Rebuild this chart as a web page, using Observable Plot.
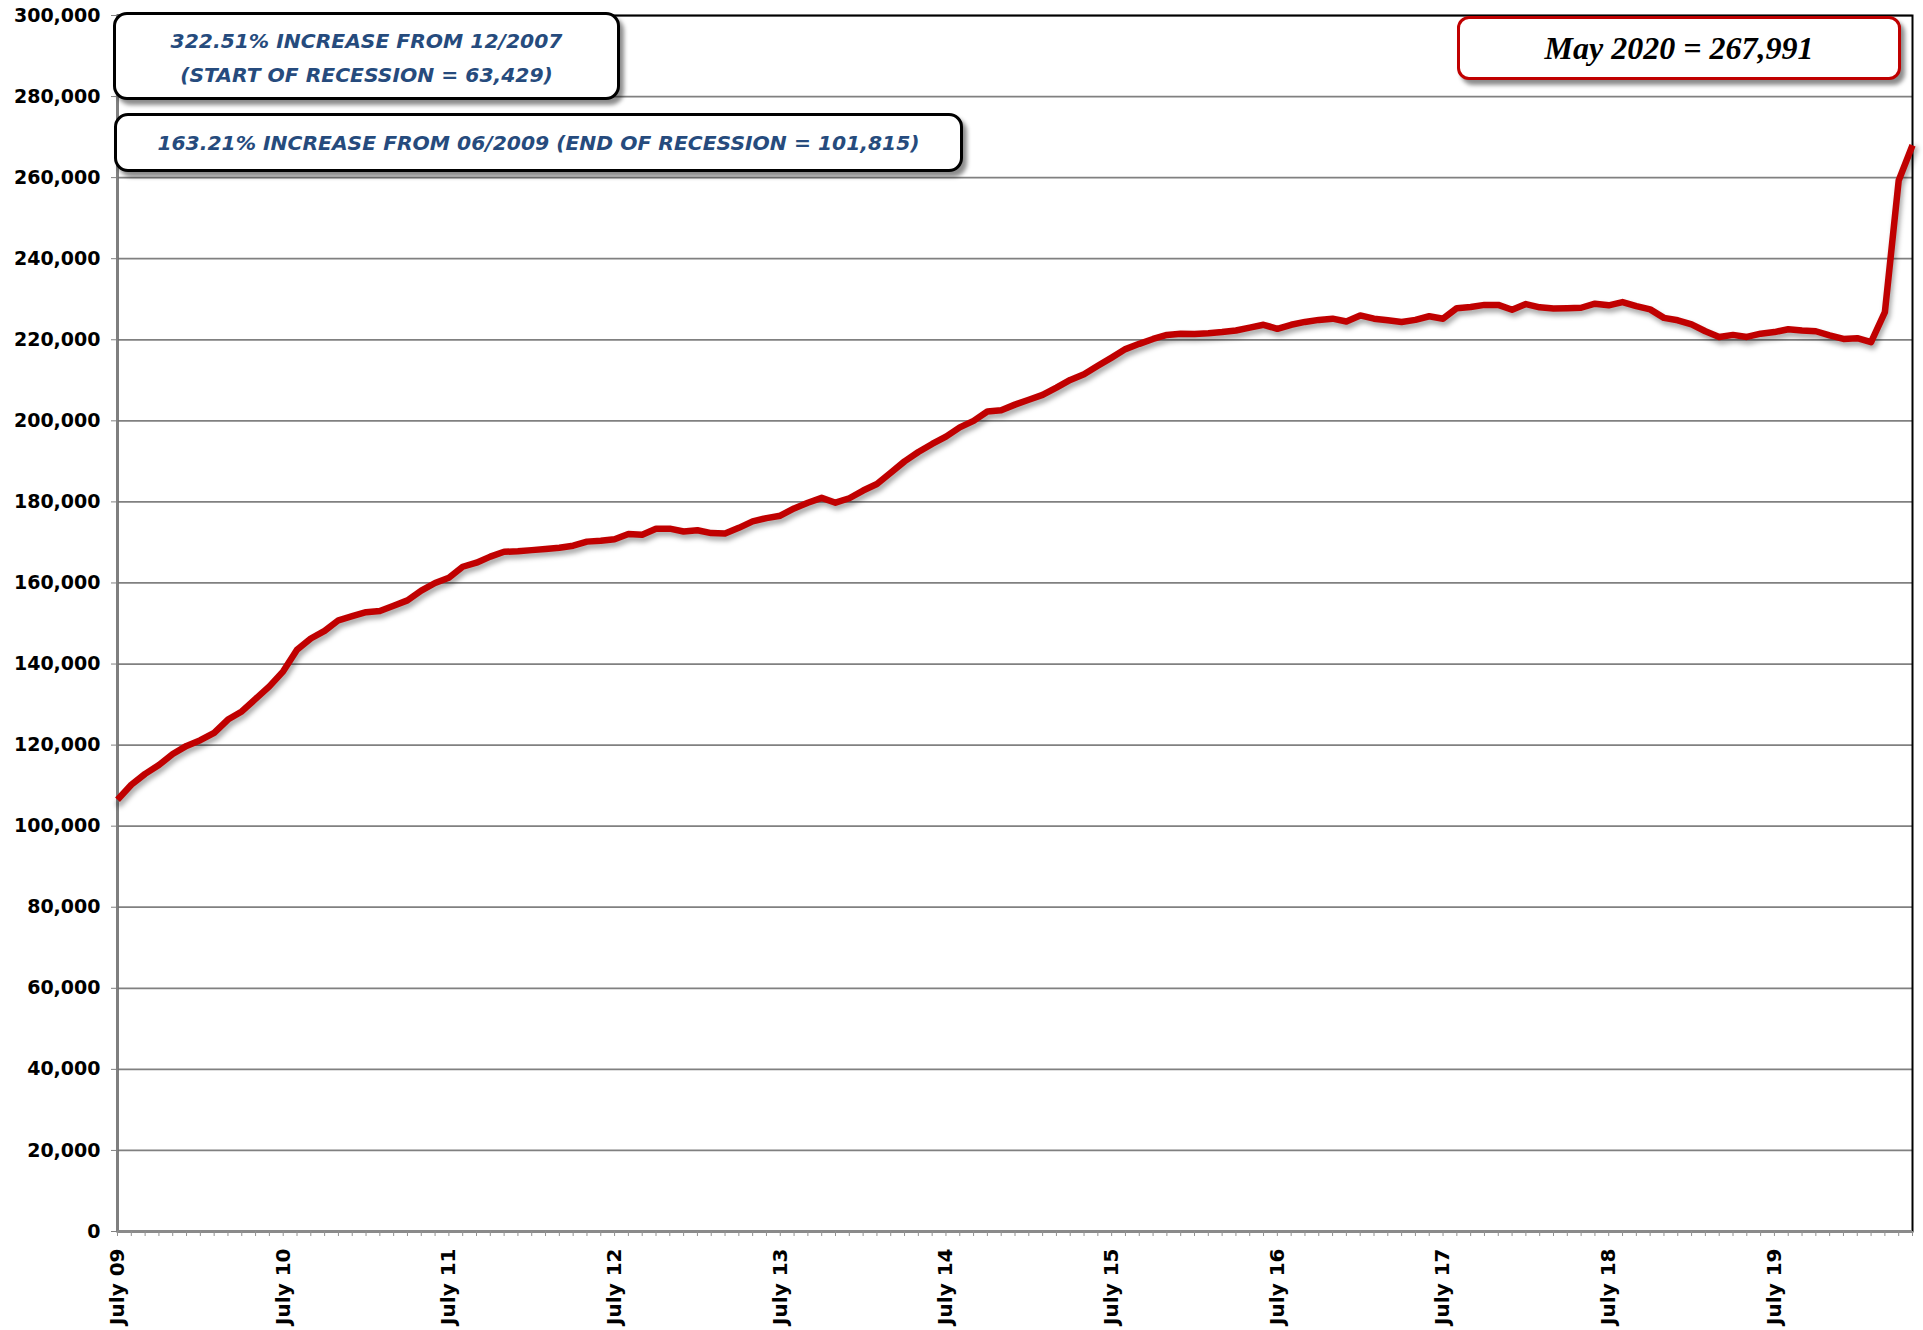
<!DOCTYPE html>
<html>
<head>
<meta charset="utf-8">
<script src="https://cdn.jsdelivr.net/npm/d3@7"></script>
<script src="https://cdn.jsdelivr.net/npm/@observablehq/plot@0.6"></script>
<style>
  html, body { margin: 0; padding: 0; background: #fff; }
  #wrap { position: relative; width: 1923px; height: 1330px; overflow: hidden; }
  #wrap svg { display: block; }
  .box { position: absolute; box-sizing: border-box; background: #fff; border-radius: 14px;
         box-shadow: 4px 5px 4px rgba(0,0,0,0.45); display: flex; align-items: center;
         justify-content: center; text-align: center; white-space: nowrap; }
  .blue { border: 3px solid #000; color: #264B7D; font-family: "DejaVu Sans", sans-serif;
          font-weight: bold; font-style: italic; font-size: 20.3px; line-height: 34px; }
  #b1 { left: 113px; top: 12px; width: 507px; height: 88px; padding-top: 4px; }
  #b2 { left: 114px; top: 113px; width: 849px; height: 59px; }
  #b3 { left: 1457px; top: 16px; width: 444px; height: 64px; border: 3px solid #C00000;
        border-radius: 12px; font-family: "Liberation Serif", "Times New Roman", serif;
        font-weight: bold; font-style: italic; font-size: 32px; color: #000; }
</style>
</head>
<body>
<div id="wrap"></div>
<script>
// Monthly values, July 2009 .. May 2020
const values = [
  106500, 110200, 112900, 115100, 117800, 119800, 121200, 123000, 126300, 128300,
  131400, 134500, 138200, 143500, 146300, 148200, 150800, 151800, 152800, 153100,
  154400, 155700, 158100, 160000, 161300, 164000, 165000, 166500, 167700, 167800,
  168100, 168400, 168700, 169200, 170200, 170400, 170800, 172100, 171900, 173400,
  173400, 172700, 173000, 172300, 172200, 173600, 175200, 176000, 176600, 178400,
  179800, 181000, 179800, 180900, 182800, 184400, 187200, 190000, 192300, 194300,
  196100, 198400, 200000, 202300, 202600, 204000, 205200, 206400, 208200, 210100,
  211500, 213600, 215600, 217700, 219000, 220200, 221200, 221500, 221400, 221600,
  221900, 222300, 223000, 223700, 222700, 223700, 224400, 224900, 225200, 224500,
  226000, 225200, 224800, 224400, 224900, 225800, 225200, 227800, 228100, 228600,
  228600, 227400, 228800, 228000, 227700, 227800, 227900, 228900, 228500, 229300,
  228300, 227500, 225400, 224800, 223800, 222100, 220700, 221200, 220700, 221500,
  221900, 222600, 222300, 222100, 221100, 220200, 220400, 219400, 226800, 259300,
  267991
];
const tickLabels = ["July 09", "July 10", "July 11", "July 12", "July 13", "July 14",
                    "July 15", "July 16", "July 17", "July 18", "July 19"];
const labelMonths = [0, 12, 24, 36, 48, 60, 72, 84, 96, 108, 120];
const yTicks = [0, 20000, 40000, 60000, 80000, 100000, 120000, 140000, 160000,
                180000, 200000, 220000, 240000, 260000, 280000, 300000];
const note1 = ["322.51% INCREASE FROM 12/2007", "(START OF RECESSION = 63,429)"];
const note2 = "163.21% INCREASE FROM 06/2009 (END OF RECESSION = 101,815)";
const note3 = "May 2020 = 267,991";

const data = values.map((v, i) => ({i, v}));
const months = data.map(d => d.i);

const plot = Plot.plot({
  width: 1923,
  height: 1330,
  marginLeft: 117,
  marginRight: 11,
  marginTop: 15,
  marginBottom: 99,
  style: {fontFamily: "'DejaVu Sans', sans-serif", background: "#fff", overflow: "visible"},
  x: {type: "linear", domain: [0, values.length - 1]},
  y: {domain: [0, 300000]},
  marks: [
    Plot.gridY(yTicks, {stroke: "#808080", strokeOpacity: 1, strokeWidth: 1.75}),
    Plot.frame({stroke: "#000", strokeWidth: 2}),
    Plot.ruleX([0], {stroke: "#7f7f7f", strokeWidth: 2.5}),
    Plot.ruleY([0], {stroke: "#8a8a8a", strokeWidth: 3}),
    Plot.axisY({ticks: yTicks, tickSize: 6, tickPadding: 11, stroke: "#808080",
                tickFormat: d3.format(","), fontSize: 19, fontWeight: "bold", fill: "#000", label: null}),
    Plot.axisX({ticks: months, tickSize: 5, stroke: "#909090", fill: "none", label: null}),
    Plot.axisX({ticks: labelMonths, tickSize: 0, tickPadding: 17, tickRotate: -90,
                tickFormat: d => tickLabels[labelMonths.indexOf(d)],
                fontSize: 20, fontWeight: "bold", fill: "#000", label: null}),
    Plot.line(data, {x: "i", y: "v", stroke: "#000", strokeOpacity: 0.35, strokeWidth: 6.5,
                     dx: 2, dy: 4, strokeLinejoin: "round"}),
    Plot.line(data, {x: "i", y: "v", stroke: "#C00000", strokeWidth: 6.5,
                     strokeLinejoin: "round", strokeLinecap: "butt"})
  ]
});

const wrap = document.getElementById("wrap");
wrap.appendChild(plot);

// soft shadow for the line
const svg = d3.select(plot);
svg.insert("defs", ":first-child").html(
  '<filter id="soft" x="-5%" y="-5%" width="110%" height="110%"><feGaussianBlur stdDeviation="2.5"/></filter>');
svg.selectAll('g[aria-label="line"]').filter((d, k) => k === 0).attr("filter", "url(#soft)");

// annotation boxes
function box(id, cls, html) {
  const el = document.createElement("div");
  el.id = id;
  el.className = "box " + cls;
  el.innerHTML = html;
  wrap.appendChild(el);
}
box("b1", "blue", "<div>" + note1.join("<br>") + "</div>");
box("b2", "blue", "<div>" + note2 + "</div>");
box("b3", "", "<div>" + note3 + "</div>");
</script>
</body>
</html>
